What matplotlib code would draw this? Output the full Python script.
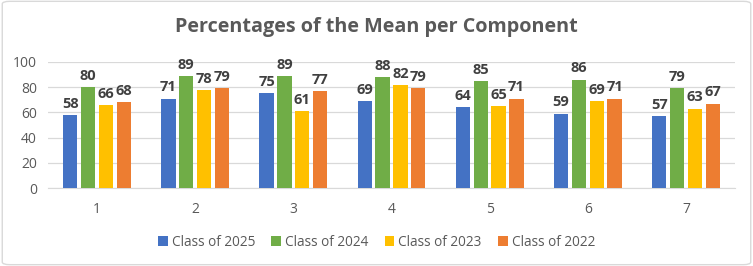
import numpy as np
import matplotlib.pyplot as plt
from matplotlib.patches import FancyBboxPatch

# --- Data ---
components = ["1", "2", "3", "4", "5", "6", "7"]
class_2025 = [58, 71, 75, 69, 64, 59, 57]
class_2024 = [80, 89, 89, 88, 85, 86, 79]
class_2023 = [66, 78, 61, 82, 65, 69, 63]
class_2022 = [68, 79, 77, 79, 71, 71, 67]
series_names = ["Class of 2025", "Class of 2024", "Class of 2023", "Class of 2022"]
colors = ["#4472C4", "#70AD47", "#FFC000", "#ED7D31"]

plt.rcParams["font.family"] = ["Open Sans", "DejaVu Sans"]

fig = plt.figure(figsize=(7.53, 2.66), dpi=100)
ax = fig.add_axes([48 / 753, 1 - 188 / 266, 687 / 753, 126 / 266])

x = np.arange(1, len(components) + 1)
width = 0.145
step = 0.182
all_series = [class_2025, class_2024, class_2023, class_2022]

for i, (vals, name, col) in enumerate(zip(all_series, series_names, colors)):
    pos = x + (i - 1.5) * step
    bars = ax.bar(pos, vals, width=width, color=col, label=name, zorder=3)
    ax.bar_label(bars, padding=3, fontsize=10.5, fontweight="bold", color="#404040")

ax.set_xlim(0.5, 7.5)
ax.set_ylim(0, 100)
ax.set_yticks([0, 20, 40, 60, 80, 100])
ax.set_xticks(x)
ax.set_xticklabels(components)
ax.yaxis.grid(True, color="#D9D9D9", linewidth=0.9, zorder=0)
for s in ["top", "right", "left"]:
    ax.spines[s].set_visible(False)
ax.spines["bottom"].set_color("#D9D9D9")
ax.tick_params(axis="both", length=0, labelsize=10, colors="#595959")
ax.tick_params(axis="x", pad=10)
ax.tick_params(axis="y", pad=8)

fig.text(0.5, 1 - 27 / 266, "Percentages of the Mean per Component",
         ha="center", va="center", fontsize=14.2, fontweight="bold", color="#595959")

fig.legend(loc="center", bbox_to_anchor=(0.5, 1 - 242 / 266), ncol=4, frameon=False,
           fontsize=9.8, handlelength=0.7, handleheight=0.7, handletextpad=0.3,
           columnspacing=1.2, labelcolor="#595959")

border = FancyBboxPatch((0.003, 0.005), 0.994, 0.99, boxstyle="round,pad=0,rounding_size=0.01",
                        transform=fig.transFigure, fill=False, edgecolor="#D9D9D9", linewidth=1)
fig.patches.append(border)

fig.savefig("out.png", dpi=100)
